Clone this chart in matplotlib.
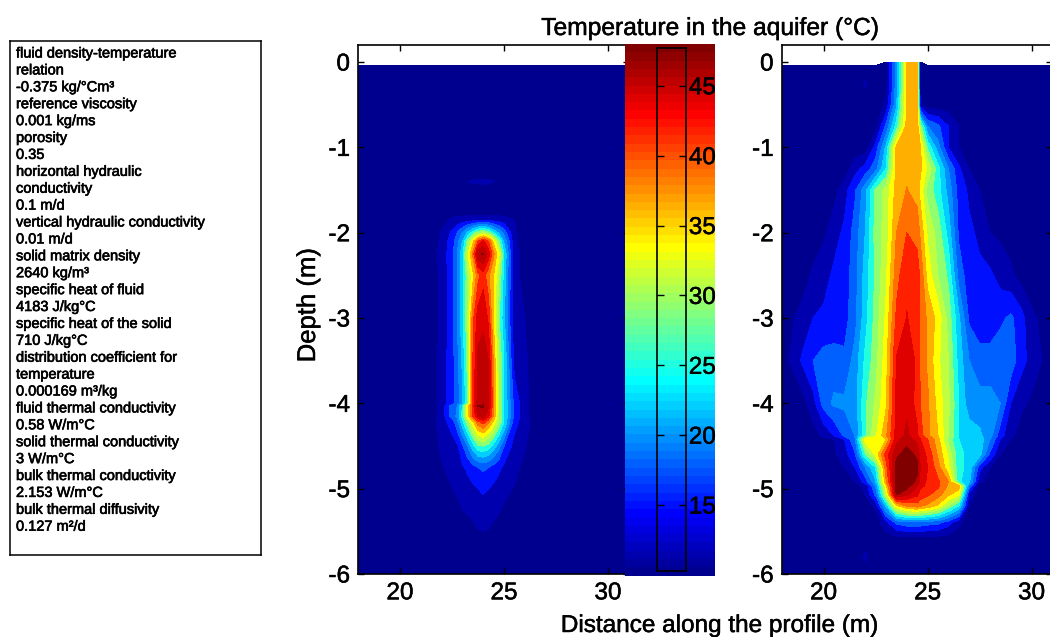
import numpy as np
import matplotlib
matplotlib.use("Agg")
import matplotlib.pyplot as plt
import matplotlib.patheffects as pe
from matplotlib.colors import LinearSegmentedColormap

nan = np.nan

# -----------------------------
# Left panel temperatures
# -----------------------------
x_left = [18, 21.5, 22, 22.5, 22.75, 23, 23.25, 23.5, 23.75, 24, 24.25, 24.5, 24.75, 25, 25.5, 26, 26.5, 31]
depth_left = [-0.04, -1.27, -1.4, -1.55, -1.75, -1.85, -2, -2.1, -2.25, -2.5, -3, -3.5, -4, -4.03, -4.15, -4.22,
              -4.5, -4.75, -5, -5.25, -5.5, -5.6, -6]
temp_left = [
    [10] * 18,
    [10] * 18,
    [10, 10, 10, 10, 10, 10, 11.5, 11.7, 11.8, 11.9, 11.8, 11.6, 10.5, 10, 10, 10, 10, 10],
    [10] * 18,
    [10] * 18,
    [10, 10, 10.5, 12, 12.4, 12.7, 12.9, 13, 13.3, 13.5, 13.3, 13, 12.8, 12.5, 11.5, 10, 10, 10],
    [10, 10, 11.7, 14.5, 16.5, 19, 22, 25, 28, 29, 27.5, 24, 21, 18, 11.8, 10.3, 10, 10],
    [10, 10, 12, 15.3, 18, 21.5, 27, 33, 39, 42, 39, 33, 27, 21, 12, 10.5, 10, 10],
    [10, 10, 12.5, 15.5, 19, 23, 31, 37, 46, 46.7, 43, 37, 32, 24, 12, 11, 10, 10],
    [10, 10, 12.2, 15.5, 19, 23, 28, 33, 38, 40.5, 37, 34, 29, 23, 12, 11, 10, 10],
    [10, 10, 12, 15.5, 19, 23, 28.5, 38, 43, 43.5, 41, 33.5, 27, 22, 12, 11.5, 10, 10],
    [10, 10, 12.5, 15.5, 18, 22, 27.5, 39, 44.5, 45, 44, 36, 29, 24, 13, 12, 10, 10],
    [10, 10, 12.5, 15.5, 17.5, 21, 26, 40, 45, 46, 44.5, 37, 29, 24, 15.5, 12.5, 10, 10],
    [10, 10, 12.5, 17.5, 19, 24, 33, 40, 46.6, 46.8, 44.5, 37, 29, 24, 15.5, 12.5, 10, 10],
    [10, 10, 12.5, 17.5, 19.5, 25, 33, 39, 44, 45, 42, 36, 29, 24, 15.5, 12.5, 10, 10],
    [10, 10, 13, 15, 18, 23, 28, 33, 38, 40, 37, 33, 28.5, 24, 15, 12.5, 10.5, 10],
    [10, 10, 12, 13, 13.5, 16, 19, 23, 26, 26.5, 25.5, 23, 20, 16.5, 13, 11.7, 10, 10],
    [10, 10, 11.2, 12.5, 13, 13.7, 14.5, 15.5, 16.5, 17, 16.5, 15.5, 14.5, 13.5, 12, 11, 10, 10],
    [10, 10, 10, 11.4, 12, 12.7, 13, 13.5, 14, 14.5, 14, 13.5, 13, 12, 11.4, 10, 10, 10],
    [10, 10, 10, 10, 10.7, 11.5, 11.8, 12, 12.5, 12.7, 12.5, 12, 11.7, 11.2, 10, 10, 10, 10],
    [10, 10, 10, 10, 10, 10, 10.5, 11, 11.4, 11.5, 11.4, 11, 10.5, 10, 10, 10, 10, 10],
    [10] * 18,
    [10] * 18,
]

# -----------------------------
# Right panel temperatures
# -----------------------------
x_right = [18, 19, 19.5, 20, 20.5, 21, 21.5, 22, 22.5, 23, 23.5, 24, 24.5, 24.65, 25,
           25.5, 26, 26.5, 27, 27.5, 28, 28.5, 29, 29.5, 30, 31]
depth_right = [0, -0.04, -0.25, -0.5, -0.75, -1, -1.25, -1.5, -2, -2.5, -3, -3.5, -4, -4.38, -4.42, -4.6, -4.75, -4.92,
               -4.97, -5.07, -5.2, -5.4, -5.6, -5.8, -6]
temp_right = [
    [nan, nan, nan, nan, nan, nan, nan, nan, nan, 10.5, 20, 34, 35.5, 11, nan, nan, nan, nan, nan, nan, nan, nan, nan, nan, nan, nan],
    [10, 10, 10, 10, 10, 10, 10, 10, 10, 10.5, 20, 34, 35.5, 11, 10, 10, 10, 10, 10, 10, 10, 10, 10, 10, 10, 10],
    [10, 10, 10, 10, 10, 10, 10, 11.8, 10, 10.5, 20, 34, 35.5, 11, 10, 10, 10, 10, 10, 10, 10, 10, 10, 10, 10, 10],
    [10, 10, 10, 10, 10, 10, 10, 10.2, 10, 12, 21, 34, 35.5, 12, 10, 10, 10, 10, 10, 10, 10, 10, 10, 10, 10, 10],
    [10, 10, 10, 10, 10, 10, 10, 10, 10.5, 17, 25, 35, 36, 28, 19, 17, 14, 11.5, 10, 10, 10, 10, 10, 10, 10, 10],
    [10, 10, 10, 10, 10, 10, 10, 10, 15, 22, 34.5, 35.5, 35.5, 34.5, 26, 20, 14, 11.5, 10, 10, 10, 10, 10, 10, 10, 10],
    [10, 10, 10, 10, 10, 10, 13, 15, 18, 24, 34.5, 36, 36, 34.5, 31, 25, 19, 14.5, 11.5, 10, 10, 10, 10, 10, 10, 10],
    [10, 10, 10, 10, 10.5, 13, 16, 20.5, 27, 30, 35, 36.6, 35.5, 33, 28, 25, 20.5, 15.5, 13.5, 11.5, 10, 10, 10, 10, 10, 10],
    [10, 10, 10, 11, 13, 14.5, 17.5, 21.5, 27.5, 30, 36.5, 39, 38, 36, 31, 28, 23, 16, 14.5, 13.5, 11.5, 11, 10.5, 10, 10, 10],
    [10, 10.3, 12, 13, 14.5, 15, 18, 22.5, 27, 31, 38, 41, 40.5, 38.5, 33, 29, 26, 18, 15, 14.5, 14.5, 13, 12, 10.5, 10, 10],
    [10, 12.5, 14, 14.5, 15, 15.5, 18, 23, 27.5, 32, 39.5, 41.6, 40.5, 38.5, 36, 33, 28, 22, 16, 15, 15, 16, 17, 15, 12, 10],
    [10, 14.5, 16.5, 17.5, 17.5, 17, 20, 24.5, 28, 33, 41.7, 43, 41, 38.5, 36, 32, 29, 23, 19, 17.5, 17.5, 18, 18, 15, 13, 10],
    [10, 10.5, 13, 17.5, 19.5, 19.5, 20, 26, 29.5, 33.5, 42, 43.5, 40.5, 39, 37, 33, 29.5, 24, 20, 20, 20, 19, 14, 12, 11, 10],
    [10, 10, 10.5, 12, 14, 17, 19, 26, 31, 36, 42.5, 44.5, 42, 40, 37, 34, 29, 24, 23, 22, 20, 15, 12, 10.5, 10, 10],
    [10, 10, 10, 11, 11.5, 14, 18.5, 33, 33, 34, 43, 45.5, 43, 41.5, 39, 35, 28, 24, 23.5, 23, 19, 14, 11.5, 10, 10, 10],
    [10, 10, 10, 10, 11, 13, 16, 26, 32, 40, 46, 47.5, 46, 43, 41, 36, 31, 24.5, 23.5, 22.5, 16, 11.5, 11, 10, 10, 10],
    [10, 10, 10, 10, 10.5, 11.5, 14, 19, 24, 38, 47.5, 48, 47, 44, 41.5, 37.5, 32, 24.5, 23.5, 15, 11.5, 10, 10, 10, 10, 10],
    [10, 10, 10, 10, 10, 10.5, 11.5, 15, 21, 36, 48, 48, 46, 43, 41, 39.5, 36.5, 24.5, 22, 12, 10.5, 10, 10, 10, 10, 10],
    [10, 10, 10, 10, 10, 10, 10.5, 12, 19, 33, 48, 47.5, 44, 42, 41, 39.5, 36, 35.5, 18, 10, 10, 10, 10, 10, 10, 10],
    [10, 10, 10, 10, 10, 10, 10, 11.5, 17, 30, 46.7, 44.5, 42, 40.5, 39.5, 37.5, 34.5, 32, 13, 10, 10, 10, 10, 10, 10, 10],
    [10, 10, 10, 10, 10, 10, 10, 10.3, 12, 22, 33.5, 37, 38, 37, 36, 33.5, 28.5, 24, 11.5, 10, 10, 10, 10, 10, 10, 10],
    [10, 10, 10, 10, 10, 10, 10, 10, 10, 13, 17, 18, 18, 18, 17.5, 17, 15, 12, 10, 10, 10, 10, 10, 10, 10, 10],
    [10] * 26,
    [10, 10, 10, 10, 10, 10, 10, 12, 10, 10, 10, 10, 10, 10, 10, 10, 10, 10, 10, 10, 10, 10, 10, 10, 10, 10],
    [10] * 26,
]

# contour bands, the value each band is painted with, and axis ticks
temp_levels = [9, 11.5, 14, 16.5, 19, 21.5, 24, 26.5, 29, 31.5, 34, 36.5, 39, 41.5, 44, 46.5, 49]
band_values = [10.25, 11.5, 14.8, 17.8, 19.5, 22, 25, 29, 31, 33.6, 36.6, 39, 42, 44.2, 45.5, 48]
x_ticks = [20, 25, 30]
depth_ticks = [0, -1, -2, -3, -4, -5, -6]
cbar_ticks = [15, 20, 25, 30, 35, 40, 45]

param_lines = [
    "fluid density-temperature", "relation", "-0.375 kg/°Cm³",
    "reference viscosity", "0.001 kg/ms",
    "porosity", "0.35",
    "horizontal hydraulic", "conductivity", "0.1 m/d",
    "vertical hydraulic conductivity", "0.01 m/d",
    "solid matrix density", "2640 kg/m³",
    "specific heat of fluid", "4183 J/kg°C",
    "specific heat of the solid", "710 J/kg°C",
    "distribution coefficient for", "temperature", "0.000169 m³/kg",
    "fluid thermal conductivity", "0.58 W/m°C",
    "solid thermal conductivity", "3 W/m°C",
    "bulk thermal conductivity", "2.153 W/m°C",
    "bulk thermal diffusivity", "0.127 m²/d",
]

plt.rcParams["font.family"] = ["Liberation Sans", "DejaVu Sans"]
plt.rcParams["axes.unicode_minus"] = False

W, H = 1050, 637
fig = plt.figure(figsize=(W / 100, H / 100), dpi=100)

# same knots as the 64 step jet of the original, matplotlib's own jet sits a bit off
jet64 = LinearSegmentedColormap.from_list("jet64", [
    (0, (0, 0, 0.5625)), (7 / 63, (0, 0, 1)), (23 / 63, (0, 1, 1)),
    (39 / 63, (1, 1, 0)), (55 / 63, (1, 0, 0)), (1, (0.5, 0, 0))], N=64)
band_colors = [jet64((v - 10) / 38) for v in band_values]
heavy = [pe.withStroke(linewidth=0.35, foreground="black")]


def axes_px(x0, y0, x1, y1):
    # pixel box, y counted from the top like in the picture
    return fig.add_axes([x0 / W, 1 - y1 / H, (x1 - x0) / W, (y1 - y0) / H])


def panel(x0, xs, depths, temps):
    ax = axes_px(x0, 45, x0 + 270.4, 574)
    ax.contourf(xs, depths, np.array(temps, dtype=float), levels=temp_levels, colors=band_colors)
    ax.set_xlim(18, 31)
    ax.set_ylim(-6, 0.2)
    ax.set_xticks(x_ticks)
    ax.set_yticks(depth_ticks)
    ax.tick_params(direction="in", length=4, width=1, top=True, right=True,
                   labelsize=17.5, pad=6)
    plt.setp(ax.get_xticklabels() + ax.get_yticklabels(), path_effects=heavy)
    for s in ax.spines.values():
        s.set_linewidth(1.2)
    return ax


ax1 = panel(358.4, x_left, depth_left, temp_left)
ax2 = panel(782, x_right, depth_right, temp_right)

# colour strip with its narrow outlined axis on top
cax = axes_px(625, 44, 715, 575.7)
band_edges = np.linspace(10, 48, 65)
cax.pcolormesh([0, 1], band_edges, (band_edges[:-1] + band_edges[1:]).reshape(-1, 1) / 2,
               cmap=jet64, vmin=10, vmax=48)
cax.axis("off")

tax = axes_px(656.5, 48, 686, 571)
tax.patch.set_alpha(0)
tax.set_xticks([])
tax.set_ylim(10.28, 47.7)
tax.set_yticks(cbar_ticks)
tax.tick_params(direction="in", length=5, width=1, left=True, right=True,
                labelleft=False, labelright=True, labelsize=17.5, pad=2)
plt.setp(tax.get_yticklabels(), path_effects=heavy)
for s in tax.spines.values():
    s.set_linewidth(1.2)

fig.text(710 / W, 1 - 28 / H, "Temperature in the aquifer (°C)", fontsize=17.7, ha="center", va="center",
         path_effects=heavy)
fig.text(719 / W, 1 - 626 / H, "Distance along the profile (m)", fontsize=17.5, ha="center", va="center",
         path_effects=heavy)
fig.text(308 / W, 1 - 305 / H, "Depth (m)", fontsize=18.5, rotation=90, ha="center", va="center",
         path_effects=heavy)

# parameter box
box = axes_px(10, 41, 261, 555)
box.set_xticks([])
box.set_yticks([])
for s in box.spines.values():
    s.set_linewidth(1.1)
for i, line in enumerate(param_lines):
    fig.text(16 / W, 1 - (53.5 + i * 16.9) / H, line, fontsize=10.5, ha="left", va="center",
             path_effects=[pe.withStroke(linewidth=0.45, foreground="black")])

plt.savefig("out.png", dpi=100)
